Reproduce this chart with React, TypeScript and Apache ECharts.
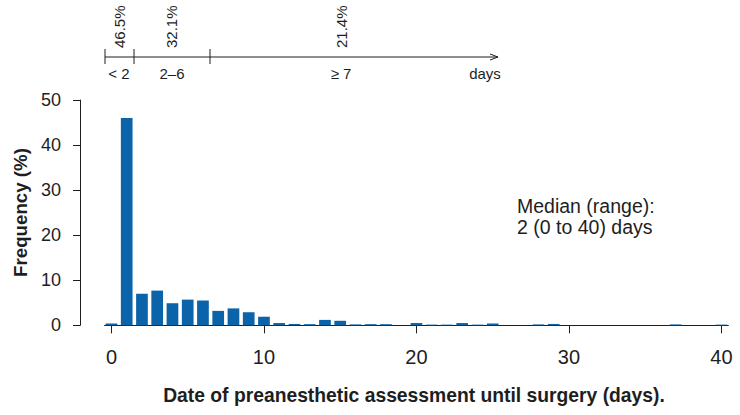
import React, { useEffect, useRef } from "react";
import * as echarts from "echarts";

const days: number[] = Array.from({ length: 41 }, (_, i) => i);
const frequency: (number | null)[] = [
  0.4, 46.0, 7.0, 7.7, 4.9, 5.7, 5.5, 3.2, 3.75, 2.9,
  1.9, 0.5, 0.3, 0.25, 1.2, 1.0, 0.2, 0.25, 0.25, null,
  0.5, 0.15, 0.15, 0.5, 0.15, 0.4, null, null, 0.2, 0.3,
  null, null, null, null, null, null, null, 0.2, null, null, 0.15,
];
const xTicks = [0, 10, 20, 30, 40];
const yTicks = [0, 10, 20, 30, 40, 50];
const groupPercents = ["46.5%", "32.1%", "21.4%"];
const groupLabels = ["< 2", "2\u20136", "\u2265 7"];
const medianLines = ["Median (range):", "2 (0 to 40) days"];

const LIB = "'Liberation Sans', Arial, sans-serif";
const BLUE = "#0b63a9";
const INK = "#1e1e1e";

export default function App() {
  const ref = useRef<HTMLDivElement>(null);
  useEffect(() => {
    if (!ref.current) return;
    const chart = echarts.init(ref.current, undefined, { renderer: "svg" });
    const topY = 57;
    const tickXs = [105, 134, 210];
    const pctXs = [119, 171, 341];
    const lblXs = [119, 172, 341];
    const graphic: any[] = [
      { type: "line", shape: { x1: 105, y1: topY, x2: 498, y2: topY }, style: { stroke: INK, lineWidth: 1 } },
      { type: "polyline", shape: { points: [[490, topY - 3], [498, topY], [490, topY + 3]] }, style: { stroke: INK, lineWidth: 1, fill: null } },
      ...tickXs.map((x) => ({ type: "line", shape: { x1: x, y1: topY - 8, x2: x, y2: topY + 7 }, style: { stroke: INK, lineWidth: 1 } })),
      ...groupPercents.map((t, i) => ({
        type: "text", x: pctXs[i], y: 48, rotation: Math.PI / 2,
        style: { text: t, fontFamily: LIB, fontSize: 15, fill: INK, align: "left", verticalAlign: "middle" },
      })),
      ...groupLabels.map((t, i) => ({
        type: "text", x: lblXs[i], y: 73,
        style: { text: t, fontFamily: LIB, fontSize: 15, fill: INK, align: "center", verticalAlign: "middle" },
      })),
      { type: "text", x: 485, y: 73, style: { text: "days", fontFamily: LIB, fontSize: 15, fill: INK, align: "center", verticalAlign: "middle" } },
      ...medianLines.map((t, i) => ({
        type: "text", x: 517, y: 206 + i * 20.5,
        style: { text: t, fontFamily: LIB, fontSize: 19.5, fill: INK, align: "left", verticalAlign: "middle" },
      })),
      { type: "text", x: 20, y: 212.5, rotation: Math.PI / 2,
        style: { text: "Frequency (%)", fontFamily: LIB, fontSize: 18.7, fontWeight: "bold", fill: INK, align: "center", verticalAlign: "middle" } },
      { type: "text", x: 414, y: 395, scaleX: 0.965,
        style: { text: "Date of preanesthetic assessment until surgery (days).", fontFamily: LIB, fontSize: 20, fontWeight: "bold", fill: INK, align: "center", verticalAlign: "middle" } },
    ];
    chart.setOption({
      animation: false,
      backgroundColor: "#fff",
      grid: { left: 104.6, right: 11.7, top: 100, bottom: 89.7, containLabel: false },
      xAxis: {
        type: "value", min: -0.45, max: 40.45,
        axisLine: { show: true, lineStyle: { color: INK, width: 1 } },
        axisTick: { show: true, length: 8, lineStyle: { color: INK }, customValues: xTicks },
        axisLabel: { show: true, customValues: xTicks, fontFamily: LIB, fontSize: 20, color: INK, margin: 22 },
        splitLine: { show: false },
      },
      yAxis: {
        type: "value", min: 0, max: 50, interval: 10, offset: 24.6,
        axisLine: { show: true, onZero: false, lineStyle: { color: INK, width: 1 } },
        axisTick: { show: true, length: 7, lineStyle: { color: INK }, customValues: yTicks },
        axisLabel: { show: true, customValues: yTicks, fontFamily: LIB, fontSize: 18, color: INK, margin: 19 },
        splitLine: { show: false },
      },
      series: [
        {
          type: "bar",
          data: days.map((d, i) => [d, frequency[i]]),
          barWidth: 11.7,
          itemStyle: { color: BLUE },
          z: 1,
        },
      ],
      graphic,
    });
    return () => chart.dispose();
  }, []);
  return <div ref={ref} style={{ width: 740, height: 415, position: "absolute", left: 0, top: 0 }} />;
}
